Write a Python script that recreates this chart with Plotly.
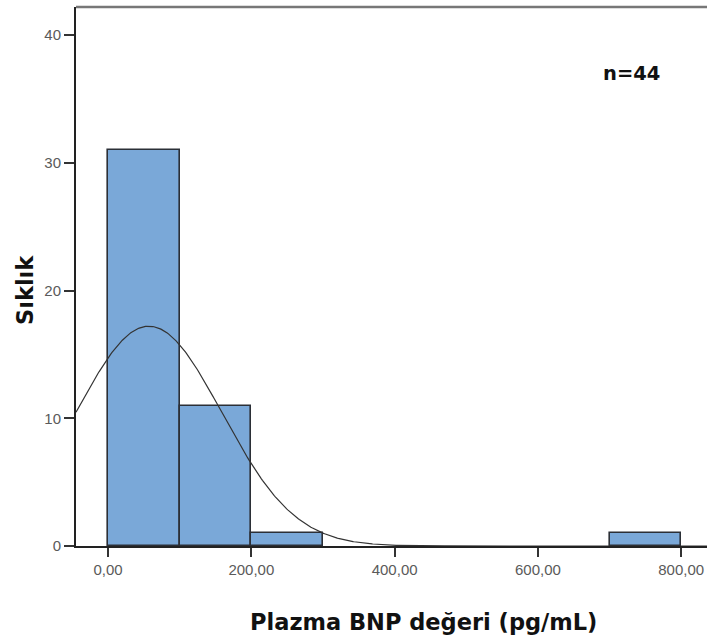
import numpy as np
import plotly.graph_objects as go

# Histogram data (bin edges of width 100)
bin_centers = [50, 150, 250, 750]
counts = [31, 11, 1, 1]
bin_width = 100

# Normal curve parameters (SPSS overlay)
n_total = 44
curve_mean = 57
curve_sd = 102

x_tick_vals = [0, 200, 400, 600, 800]
x_tick_text = ["0,00", "200,00", "400,00", "600,00", "800,00"]
y_tick_vals = [0, 10, 20, 30, 40]

x_range = [-44.7, 836]
y_range = [0, 42.2]

cx = np.linspace(x_range[0], x_range[1], 600)
cy = n_total * bin_width / (curve_sd * np.sqrt(2 * np.pi)) * np.exp(-0.5 * ((cx - curve_mean) / curve_sd) ** 2)

fig = go.Figure()
fig.add_trace(go.Bar(
    x=bin_centers, y=counts, width=bin_width,
    marker=dict(color="#7aa8d8", line=dict(color="#2b2f36", width=1.6)),
    showlegend=False, hoverinfo="skip",
))
fig.add_trace(go.Scatter(
    x=cx, y=cy, mode="lines",
    line=dict(color="#333333", width=1.2),
    showlegend=False, hoverinfo="skip",
))

tick_font = dict(family="Liberation Sans, Arial, sans-serif", size=15, color="#5a5a5a")
title_font = dict(family="DejaVu Sans, sans-serif", size=22.5, color="#111111")

fig.update_layout(
    width=707, height=641,
    margin=dict(l=76, r=0, t=7, b=95),
    paper_bgcolor="white", plot_bgcolor="white",
    bargap=0,
    xaxis=dict(
        range=x_range, tickmode="array", tickvals=x_tick_vals, ticktext=x_tick_text,
        ticks="outside", ticklen=9, tickwidth=1.5, tickcolor="#333333",
        showline=True, linecolor="#222222", linewidth=2,
        showgrid=False, zeroline=False, tickfont=tick_font,
    ),
    yaxis=dict(
        range=y_range, tickmode="array", tickvals=y_tick_vals,
        ticks="outside", ticklen=10, tickwidth=1.5, tickcolor="#333333",
        showline=True, linecolor="#222222", linewidth=2,
        showgrid=False, zeroline=False, tickfont=tick_font,
    ),
    shapes=[dict(type="line", xref="paper", yref="paper", x0=0, x1=1, y0=1, y1=1,
                 line=dict(color="#777777", width=2.5))],
    annotations=[
        dict(text="<b>Plazma BNP değeri (pg/mL)</b>", xref="paper", yref="paper",
             x=0.5515, y=0, xanchor="center", yanchor="middle", yshift=-76,
             showarrow=False, font=title_font),
        dict(text="<b>Sıklık</b>", xref="paper", yref="paper",
             x=0, y=0.475, xanchor="center", yanchor="middle", xshift=-51,
             textangle=-90, showarrow=False, font=title_font),
        dict(text="<b>n=44</b>", xref="x", yref="y", x=730, y=37.0,
             xanchor="center", yanchor="middle", showarrow=False,
             font=dict(family="DejaVu Sans, sans-serif", size=19.5, color="#111111")),
    ],
)

fig.write_html("out.html")
